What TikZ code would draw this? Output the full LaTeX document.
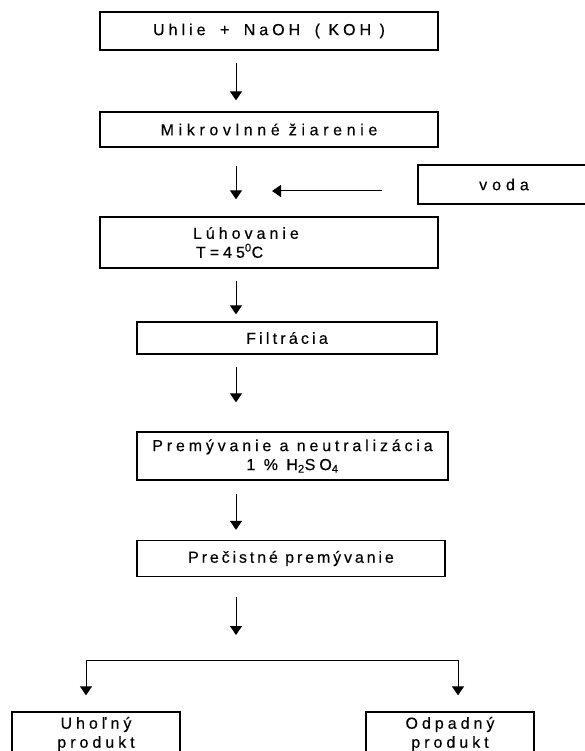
\documentclass[tikz,border=0pt]{standalone}
\usepackage{fontspec}
\setmainfont{Liberation Sans}[LetterSpace=25, FakeBold=0.3]
\usetikzlibrary{arrows.meta,positioning,calc}

\newcommand{\gap}{\hspace{6pt}}
\newcommand{\spacing}[1]{\addfontfeature{LetterSpace=#1}}

\begin{document}
\begin{tikzpicture}[x=1pt, y=-1pt,
    stepbox/.style={draw, line width=1.3pt, rectangle, inner sep=0pt, align=center,
                    font=\fontsize{16}{19}\selectfont},
    flow/.style={-{Triangle[width=12pt,length=9pt]}, line width=1pt}]
    \useasboundingbox (0,0) rectangle (584,751);

    % Process steps
    \node[stepbox, minimum width=338, minimum height=38] (mix) at (269,31) {Uhlie\gap{} + \gap{}NaOH\gap{} ( KOH )};
    \node[stepbox, minimum width=338, minimum height=35] (mw) at (269,129.5) {\spacing{29}Mikrovlnné žiarenie};
    \node[stepbox, minimum height=51, text width=338, align=left] (leach) at (269,242.5) {\hspace*{93pt}Lúhovanie\\\hspace*{96pt}T=45\textsuperscript{0}C};
    \node[stepbox, minimum width=300, minimum height=32] (filt) at (287,338) {\spacing{20}Filtrácia};
    \node[stepbox, minimum width=311, minimum height=48] (wash) at (292.5,456) {\spacing{24}Premývanie a neutralizácia\\1 \% H\textsubscript{2}SO\textsubscript{4}};
    \node[stepbox, minimum width=308, minimum height=36] (rinse) at (291,558.5) {\spacing{18}Prečistné premývanie};

    % Water input
    \node[stepbox, minimum width=172, minimum height=39] (water) at (504,184.5) {\spacing{31}voda};

    % Products
    \node[stepbox, minimum width=168, minimum height=44] (coal) at (96,734) {Uhoľný\\produkt};
    \node[stepbox, minimum width=168, minimum height=44] (waste) at (450,734) {Odpadný\\produkt};

    % Arrows down the main line
    \coordinate (ax) at (236,0);
    \draw[flow, shorten <=12pt, shorten >=11pt] (mix.south -| ax) -- (mw.north -| ax);
    \draw[flow, shorten <=18pt, shorten >=17pt] (mw.south -| ax) -- (leach.north -| ax);
    \draw[flow, shorten <=12pt, shorten >=7pt] (leach.south -| ax) -- (filt.north -| ax);
    \draw[flow, shorten <=12pt, shorten >=29pt] (filt.south -| ax) -- (wash.north -| ax);
    \draw[flow, shorten <=13pt, shorten >=10pt] (wash.south -| ax) -- (rinse.north -| ax);

    \coordinate (split) at (236,635);
    \draw[flow, shorten <=20pt] (rinse.south -| ax) -- (split);

    % Water arrow
    \coordinate (inlet) at (272,191);
    \draw[flow, shorten <=35pt] (water.west |- inlet) -- (inlet);

    % Branch to products
    \coordinate (jl) at (86,660);
    \coordinate (jr) at (458,660);
    \draw[line width=1pt] (jl) -- (jr);
    \draw[flow, shorten >=16pt] (jl) -- (coal.north -| jl);
    \draw[flow, shorten >=16pt] (jr) -- (waste.north -| jr);
\end{tikzpicture}
\end{document}
